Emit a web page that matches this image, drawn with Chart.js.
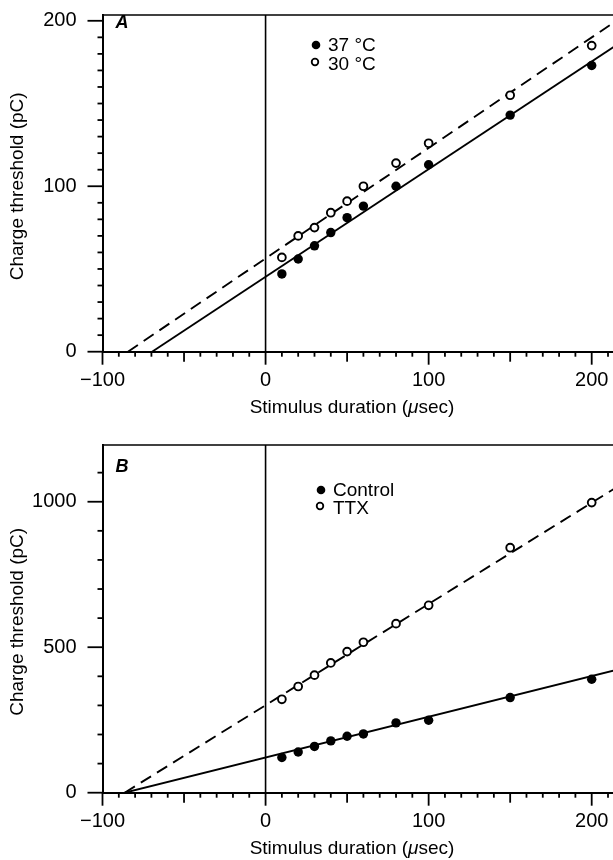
<!DOCTYPE html>
<html><head><meta charset="utf-8">
<script src="https://cdn.jsdelivr.net/npm/chart.js@4.4.1/dist/chart.umd.min.js"></script>
<style>
html,body{margin:0;padding:0;background:#fff;overflow:hidden;}
#wrap{position:relative;width:613px;height:860px;overflow:hidden;background:#fff;}
canvas{position:absolute;left:0;}
</style></head><body>
<div id="wrap">
<canvas id="cA" width="640" height="430" style="top:0"></canvas>
<canvas id="cB" width="640" height="430" style="top:430px"></canvas>
</div>
<script>
// ---- data ----
const durations = [10, 20, 30, 40, 50, 60, 80, 100, 150, 200];
const thrA37 = [47, 56, 64, 72, 81, 88, 100, 113, 143, 173];
const thrA30 = [57, 70, 75, 84, 91, 100, 114, 126, 155, 185];
const thrBControl = [121, 140, 159, 178, 194, 202, 240, 249, 327, 390];
const thrBTTX = [321, 365, 404, 446, 485, 517, 581, 644, 842, 997];
// fitted straight lines (end points in data units)
const fitA37X = [-69.6, 230], fitA37Y = [0, 195];
const fitA30X = [-84.4, 230], fitA30Y = [0, 210];
const fitBCtlX = [-86.4, 230], fitBCtlY = [0, 443];
const fitBTTXX = [-86.4, 230], fitBTTXY = [0, 1101];
// ticks / labels
const xTickValues = [-100, 0, 100, 200];
const yTickValuesA = [0, 100, 200];
const yTickValuesB = [0, 500, 1000];
const legendA = ['37 \u00B0C', '30 \u00B0C'];
const legendB = ['Control', 'TTX'];
const panelLetters = ['A', 'B'];
const xTitleParts = ['Stimulus duration (', '\u03BC', 'sec)'];
const yTitle = 'Charge threshold (pC)';

const F = '"Liberation Sans", Arial, Helvetica, sans-serif';

function pts(xs, ys){ return xs.map((x,i)=>({x:x, y:ys[i]})); }

function decor(cfg){
  return {
    id:'decor',
    beforeDatasetsDraw(chart){
      const {ctx, chartArea:a, scales:{x}} = chart;
      ctx.save();
      ctx.strokeStyle = '#000';
      ctx.lineWidth = 1.6;
      ctx.beginPath(); ctx.moveTo(a.left, a.top); ctx.lineTo(a.right, a.top); ctx.stroke();
      const x0 = x.getPixelForValue(0);
      ctx.beginPath(); ctx.moveTo(x0, a.top); ctx.lineTo(x0, a.bottom); ctx.stroke();
      ctx.restore();
    },
    afterDraw(chart){
      const {ctx, chartArea:a, scales:{x, y}} = chart;
      ctx.save();
      ctx.strokeStyle = '#000'; ctx.fillStyle = '#000';
      ctx.lineWidth = 1.8;
      for (let v = x.min; v <= x.max + 1e-6; v += 10) {
        const r = Math.round(v);
        const len = (r % 100 === 0) ? 13 : (Math.abs(r % 50) === 0 ? 10 : 5);
        const px = x.getPixelForValue(r);
        ctx.beginPath(); ctx.moveTo(px, a.bottom); ctx.lineTo(px, a.bottom + len); ctx.stroke();
      }
      for (let v = 0; v <= y.max + 1e-6; v += cfg.yMinor) {
        const len = (v % cfg.yMajor === 0) ? 15 : 5;
        const py = y.getPixelForValue(v);
        ctx.beginPath(); ctx.moveTo(a.left, py); ctx.lineTo(a.left - len, py); ctx.stroke();
      }
      const fonts = ['19px ' + F, 'italic 19px ' + F, '19px ' + F];
      let w = 0;
      xTitleParts.forEach((t,i)=>{ ctx.font = fonts[i]; w += ctx.measureText(t).width; });
      let xx = cfg.xTitleX - w/2;
      ctx.textBaseline = 'middle'; ctx.textAlign = 'left';
      xTitleParts.forEach((t,i)=>{ ctx.font = fonts[i]; ctx.fillText(t, xx, cfg.xTitleY); xx += ctx.measureText(t).width; });
      ctx.save();
      ctx.translate(18, (a.top + a.bottom)/2 + 3);
      ctx.rotate(-Math.PI/2);
      ctx.font = '19px ' + F; ctx.textAlign = 'center'; ctx.textBaseline = 'middle';
      ctx.fillText(yTitle, 0, 0);
      ctx.restore();
      ctx.font = 'italic bold 18px ' + F; ctx.textAlign = 'center'; ctx.textBaseline = 'middle';
      ctx.fillText(cfg.letter, cfg.letterX, cfg.letterY);
      ctx.textAlign = 'left'; ctx.font = '19px ' + F;
      ctx.beginPath(); ctx.arc(cfg.legX, cfg.legY1, 4.3, 0, Math.PI*2); ctx.fill();
      ctx.fillText(cfg.legend[0], cfg.legX + 12, cfg.legY1 + 1);
      ctx.lineWidth = 1.8;
      ctx.beginPath(); ctx.arc(cfg.legX - 1, cfg.legY2, 3.3, 0, Math.PI*2); ctx.stroke();
      ctx.fillText(cfg.legend[1], cfg.legX + 12, cfg.legY2 + 3);
      ctx.restore();
    }
  };
}

function makeChart(id, cfg){
  return new Chart(document.getElementById(id), {
    type: 'scatter',
    data: { datasets: [
      { data: pts(durations, cfg.filled), pointRadius: 4.7, pointBackgroundColor:'#000', pointBorderColor:'#000', pointBorderWidth:0, showLine:false },
      { data: pts(durations, cfg.open), pointRadius: 3.9, pointBackgroundColor:'#fff', pointBorderColor:'#000', pointBorderWidth:1.9, showLine:false },
      { data: pts(cfg.fitSX, cfg.fitSY), showLine:true, borderColor:'#000', borderWidth:1.9, pointRadius:0 },
      { data: pts(cfg.fitDX, cfg.fitDY), showLine:true, borderColor:'#000', borderWidth:1.9, borderDash:[12,7], pointRadius:0 }
    ]},
    options: {
      responsive:false, animation:false, events:[],
      layout:{ padding:{ top:cfg.top, left:0, right:0, bottom:0 } },
      plugins:{ legend:{display:false}, tooltip:{enabled:false} },
      scales:{
        x:{ type:'linear', min:-100, max:226,
            afterFit(s){ s.height = cfg.xHeight; s.paddingLeft = 0; s.paddingRight = 0; },
            afterBuildTicks(s){ s.ticks = xTickValues.map(v=>({value:v})); },
            grid:{ display:false, drawTicks:false },
            border:{ display:true, color:'#000', width:2 },
            ticks:{ padding:17, color:'#000', maxRotation:0, autoSkip:false, font:{family:F, size:20},
                    callback:(v)=> v < 0 ? '\u2212' + Math.abs(v) : String(v) } },
        y:{ type:'linear', min:0, max:cfg.yMax,
            afterFit(s){ s.width = 102.5; s.paddingTop = 0; s.paddingBottom = 0; },
            afterBuildTicks(s){ s.ticks = cfg.yTicks.map(v=>({value:v})); },
            grid:{ display:false, drawTicks:false },
            border:{ display:true, color:'#000', width:2 },
            ticks:{ padding:26, color:'#000', autoSkip:false, font:{family:F, size:20},
                    callback:(v)=> String(v) } }
      }
    },
    plugins:[ decor(cfg) ]
  });
}

makeChart('cA', {
  filled: thrA37, open: thrA30,
  fitSX: fitA37X, fitSY: fitA37Y, fitDX: fitA30X, fitDY: fitA30Y,
  yMax: 203.5, yTicks: yTickValuesA, yMinor: 10, yMajor: 100,
  top: 15, xHeight: 78.3, xTitleX: 352, xTitleY: 408,
  letter: panelLetters[0], letterX: 122, letterY: 23,
  legend: legendA, legX: 316, legY1: 45, legY2: 62
});
makeChart('cB', {
  filled: thrBControl, open: thrBTTX,
  fitSX: fitBCtlX, fitSY: fitBCtlY, fitDX: fitBTTXX, fitDY: fitBTTXY,
  yMax: 1195, yTicks: yTickValuesB, yMinor: 100, yMajor: 500,
  top: 15, xHeight: 67.3, xTitleX: 352, xTitleY: 419,
  letter: panelLetters[1], letterX: 122, letterY: 37,
  legend: legendB, legX: 321, legY1: 60, legY2: 76
});
</script>
</body></html>
